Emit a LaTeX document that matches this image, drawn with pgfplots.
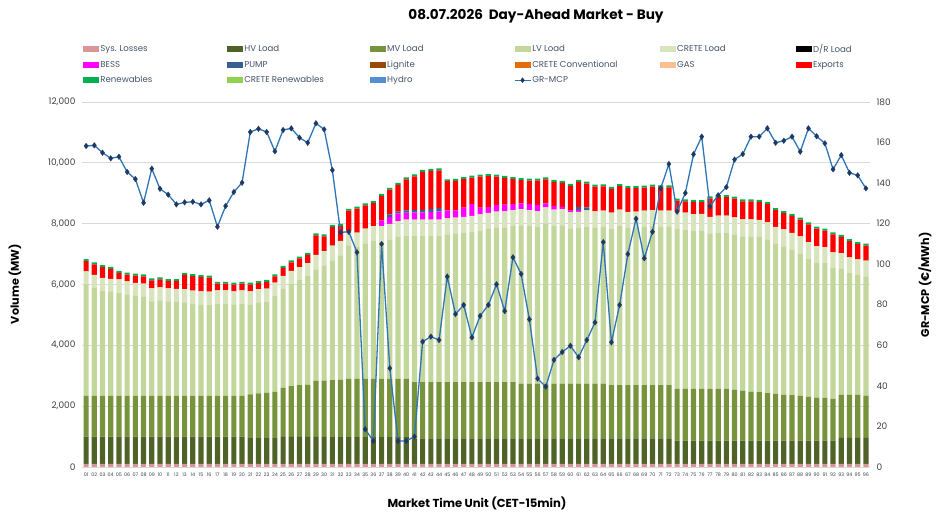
\documentclass[border=0pt]{standalone}
\usepackage{pgfplots}
\usepackage{pgfplotstable}
\pgfplotsset{compat=1.18}
\usepackage{fontspec}
\setmainfont{Poppins}

\definecolor{losscol}{HTML}{D99694}
\definecolor{hvcol}{HTML}{4F6228}
\definecolor{mvcol}{HTML}{77933C}
\definecolor{lvcol}{HTML}{C3D69B}
\definecolor{cretecol}{HTML}{D7E4BD}
\definecolor{drcol}{HTML}{000000}
\definecolor{besscol}{HTML}{FF00FF}
\definecolor{pumpcol}{HTML}{376092}
\definecolor{lignitecol}{HTML}{984807}
\definecolor{cconvcol}{HTML}{E46C0A}
\definecolor{gascol}{HTML}{FAC090}
\definecolor{expcol}{HTML}{FF0000}
\definecolor{rencol}{HTML}{00B050}
\definecolor{crenrcol}{HTML}{92D050}
\definecolor{hydrocol}{HTML}{558ED5}
\definecolor{mcpline}{HTML}{2E75B6}
\definecolor{mcpmark}{HTML}{1F3864}
\definecolor{gridgray}{HTML}{D9D9D9}
\definecolor{legtext}{HTML}{44546A}
\definecolor{ticktext}{HTML}{404040}

\pgfplotsset{
  swatch/.style={legend image code/.code={\fill[##1,draw=none] (0pt,-3pt) rectangle (16pt,3pt);}},
  mcpswatch/.style={legend image code/.code={%
    \draw[##1,mark=none] (0pt,0pt) -- (16pt,0pt);
    \path[##1] plot coordinates {(8pt,0pt)};}},
}

% volumes in MW per market time unit, price in EUR/MWh
\pgfplotstableread{
t loss hv mv lv crete bess pump exp ren mcp
1 100 900 1340 3665 430 0 0 330 65 158.3
2 100 900 1340 3545 430 0 0 350 65 158.6
3 100 900 1340 3445 430 0 0 360 65 155.0
4 100 900 1340 3415 430 0 0 330 65 152.2
5 100 900 1340 3395 430 0 0 220 65 153.0
6 100 900 1340 3335 430 0 0 220 65 145.5
7 100 900 1340 3285 430 0 0 240 65 142.0
8 100 900 1340 3255 430 0 0 240 65 130.3
9 100 900 1340 3105 430 0 0 260 65 147.1
10 100 900 1340 3135 430 0 0 260 65 137.2
11 100 900 1340 3105 430 0 0 240 65 134.3
12 100 900 1340 3085 430 0 0 260 65 129.5
13 100 900 1340 3075 430 0 0 470 65 130.5
14 100 900 1340 3025 430 0 0 480 65 130.8
15 100 900 1340 3005 430 0 0 470 65 129.5
16 100 900 1340 2995 430 0 0 460 65 131.5
17 100 900 1340 3035 430 0 0 220 65 118.5
18 100 900 1340 3035 430 0 0 220 65 128.7
19 100 900 1340 3005 430 0 0 220 65 135.6
20 100 900 1340 3035 430 0 0 220 65 140.2
21 100 850 1440 2955 430 0 0 220 65 165.2
22 100 850 1470 2995 430 0 0 200 65 166.8
23 100 850 1490 2995 430 0 0 220 65 165.2
24 100 850 1520 3165 430 0 0 200 65 155.7
25 100 890 1620 3245 430 0 0 260 65 166.2
26 100 890 1670 3355 430 0 0 280 65 167.0
27 100 890 1700 3455 430 0 0 280 65 162.4
28 100 890 1710 3575 430 0 0 270 65 159.9
29 100 890 1840 3665 480 0 0 640 65 169.5
30 100 890 1850 3775 480 0 0 490 65 166.5
31 100 880 1880 3935 480 0 0 620 65 146.4
32 100 880 1890 4085 480 0 0 490 65 115.7
33 100 880 1920 4385 480 0 0 660 65 116.0
34 100 880 1920 4325 480 0 0 790 65 105.9
35 100 880 1920 4455 480 0 0 770 65 18.6
36 100 880 1920 4535 480 0 0 760 65 12.8
37 100 880 1920 4485 530 190 0 810 65 110.0
38 100 880 1920 4565 530 220 90 810 65 48.7
39 100 880 1920 4655 530 250 60 880 65 12.8
40 100 880 1920 4705 530 230 70 1020 65 12.8
41 100 840 1850 4815 530 240 70 1110 65 15.0
42 100 840 1850 4815 530 240 80 1250 65 61.8
43 100 840 1850 4815 530 250 90 1260 65 64.3
44 100 840 1850 4815 530 270 110 1240 65 62.6
45 100 840 1850 4855 530 260 0 960 65 93.9
46 100 840 1850 4875 530 240 0 970 65 75.4
47 100 840 1850 4905 530 300 0 940 65 79.9
48 100 840 1850 4935 530 390 0 870 65 63.9
49 100 840 1850 4985 530 220 0 1020 65 74.5
50 100 840 1850 5035 530 190 0 1020 65 79.9
51 100 840 1850 5075 530 220 0 930 65 90.1
52 100 840 1850 5085 530 220 0 880 65 76.9
53 100 840 1850 5125 530 200 0 820 65 103.4
54 100 840 1800 5205 530 190 0 770 65 95.2
55 100 840 1800 5175 530 200 0 770 65 72.8
56 100 840 1800 5145 530 200 0 800 65 43.6
57 100 840 1800 5265 530 130 0 790 65 39.6
58 100 840 1800 5195 530 120 0 790 65 52.8
59 100 840 1800 5205 530 80 0 790 65 56.7
60 100 840 1800 5105 530 50 0 820 65 59.8
61 100 840 1800 5115 530 70 100 820 65 54.1
62 100 840 1800 5165 530 0 100 780 65 62.6
63 100 840 1800 5135 530 0 0 810 65 71.3
64 100 840 1800 5155 530 0 0 800 65 110.9
65 100 840 1750 5145 530 0 0 780 65 61.5
66 100 840 1750 5245 530 0 0 770 65 79.9
67 100 840 1750 5165 530 0 0 780 65 105.0
68 100 840 1750 5175 530 0 0 770 65 122.4
69 100 840 1750 5205 530 0 0 760 65 102.9
70 100 840 1750 5225 530 0 0 770 65 116.0
71 100 840 1750 5205 530 0 0 770 65 137.4
72 100 840 1750 5205 530 0 0 770 65 149.4
73 100 770 1700 5265 560 0 0 360 65 125.9
74 100 770 1700 5235 560 0 0 370 65 135.1
75 100 770 1700 5185 560 0 0 400 65 154.2
76 100 770 1700 5195 560 0 0 380 65 162.9
77 100 770 1700 5095 560 0 0 610 65 128.5
78 100 770 1700 5135 560 0 0 610 65 134.0
79 100 770 1700 5135 560 0 0 610 65 138.0
80 100 770 1670 5105 560 0 0 620 65 151.6
81 100 770 1640 5075 560 0 0 590 65 154.3
82 100 770 1610 5105 560 0 0 590 65 162.9
83 100 770 1590 5105 560 0 0 590 65 162.9
84 100 770 1560 5055 560 0 0 600 65 167.0
85 100 770 1530 4935 560 0 0 550 65 159.9
86 100 770 1500 4885 560 0 0 530 65 160.9
87 100 770 1490 4775 560 0 0 560 65 162.9
88 100 770 1470 4685 560 0 0 550 65 155.5
89 100 770 1440 4525 560 0 0 580 65 167.0
90 100 770 1410 4425 560 0 0 570 65 163.1
91 100 770 1400 4435 520 0 0 550 65 159.6
92 100 770 1370 4295 520 0 0 590 65 146.8
93 100 860 1420 4135 520 0 0 530 65 153.8
94 100 860 1420 3995 520 0 0 530 65 145.1
95 100 860 1410 3935 520 0 0 500 65 143.8
96 100 860 1390 3915 520 0 0 490 65 137.4
}\data

\begin{document}
\begin{tikzpicture}
\useasboundingbox (0,0) rectangle (940pt,532pt);

\begin{axis}[
  at={(82pt,65pt)}, anchor=south west,
  scale only axis, width=788pt, height=365pt,
  ybar stacked, bar width=5.2pt,
  xmin=0.5, xmax=96.5, ymin=0, ymax=12000,
  xtick={1,...,96},
  xticklabels={01,02,03,04,05,06,07,08,09,10,11,12,13,14,15,16,17,18,19,20,21,22,23,24,25,26,27,28,29,30,31,32,33,34,35,36,37,38,39,40,41,42,43,44,45,46,47,48,49,50,51,52,53,54,55,56,57,58,59,60,61,62,63,64,65,66,67,68,69,70,71,72,73,74,75,76,77,78,79,80,81,82,83,84,85,86,87,88,89,90,91,92,93,94,95,96},
  ytick={0,2000,...,12000},
  scaled y ticks=false,
  /pgf/number format/.cd, 1000 sep={,}, assume math mode=true,
  /pgfplots/.cd,
  axis x line*=bottom, axis y line*=left,
  axis line style={draw=none},
  major tick length=0pt,
  ymajorgrids, major grid style={draw=gridgray, line width=0.8pt},
  xticklabel style={font=\fontsize{4.8}{5}\selectfont, text=ticktext,
    anchor=north, text height=3.6pt, text depth=0pt, yshift=-2pt},
  yticklabel style={font=\fontsize{9}{10}\selectfont, text=ticktext, xshift=-3pt},
  legend columns=6,
  legend cell align=left,
  legend style={at={(0.0013,1.162)}, anchor=north west, draw=none, fill=none,
    inner sep=0pt, row sep=4.8pt,
    font=\fontsize{8.6}{10}\selectfont, text=legtext,
    nodes={inner sep=1.2pt, anchor=west}},
]
\addplot[forget plot, fill=losscol, draw=none] table[x=t, y=loss]{\data};
\addplot[forget plot, fill=hvcol, draw=none] table[x=t, y=hv]{\data};
\addplot[forget plot, fill=mvcol, draw=none] table[x=t, y=mv]{\data};
\addplot[forget plot, fill=lvcol, draw=none] table[x=t, y=lv]{\data};
\addplot[forget plot, fill=cretecol, draw=none] table[x=t, y=crete]{\data};
\addplot[forget plot, fill=besscol, draw=none] table[x=t, y=bess]{\data};
\addplot[forget plot, fill=pumpcol, draw=none] table[x=t, y=pump]{\data};
\addplot[forget plot, fill=expcol, draw=none] table[x=t, y=exp]{\data};
\addplot[forget plot, fill=rencol, draw=none] table[x=t, y=ren]{\data};

\addlegendimage{swatch, fill=losscol}
\addlegendentry{\makebox[125.5pt][l]{Sys. Losses}}
\addlegendimage{swatch, fill=hvcol}
\addlegendentry{\makebox[124.5pt][l]{HV Load}}
\addlegendimage{swatch, fill=mvcol}
\addlegendentry{\makebox[125.5pt][l]{MV Load}}
\addlegendimage{swatch, fill=lvcol}
\addlegendentry{\makebox[126.5pt][l]{LV Load}}
\addlegendimage{swatch, fill=cretecol}
\addlegendentry{\makebox[117.5pt][l]{CRETE Load}}
\addlegendimage{swatch, fill=drcol}
\addlegendentry{D/R Load}
\addlegendimage{swatch, fill=besscol}
\addlegendentry{BESS}
\addlegendimage{swatch, fill=pumpcol}
\addlegendentry{PUMP}
\addlegendimage{swatch, fill=lignitecol}
\addlegendentry{Lignite}
\addlegendimage{swatch, fill=cconvcol}
\addlegendentry{CRETE Conventional}
\addlegendimage{swatch, fill=gascol}
\addlegendentry{GAS}
\addlegendimage{swatch, fill=expcol}
\addlegendentry{Exports}
\addlegendimage{swatch, fill=rencol}
\addlegendentry{Renewables}
\addlegendimage{swatch, fill=crenrcol}
\addlegendentry{CRETE Renewables}
\addlegendimage{swatch, fill=hydrocol}
\addlegendentry{Hydro}
\addlegendimage{mcpswatch, color=mcpline, line width=1.2pt, mark=diamond*, mark size=2.6pt, mark options={fill=mcpmark, draw=mcpmark, line width=0.2pt}}
\addlegendentry{GR-MCP}
\end{axis}

\begin{axis}[
  at={(82pt,65pt)}, anchor=south west,
  scale only axis, width=788pt, height=365pt,
  xmin=0.5, xmax=96.5, ymin=0, ymax=180,
  ytick={0,20,...,180},
  axis x line=none,
  axis y line*=right,
  axis line style={draw=none},
  major tick length=0pt,
  /pgf/number format/assume math mode=true,
  yticklabel style={font=\fontsize{9}{10}\selectfont, text=ticktext, xshift=3pt},
]
\addplot[color=mcpline, line width=1.3pt, mark=diamond*, mark size=2.9pt,
  mark options={fill=mcpmark, draw=mcpmark, line width=0.2pt}]
  table[x=t, y=mcp]{\data};
\end{axis}

\node[font=\bfseries\fontsize{13.6}{16}\selectfont] at (536pt,516pt) {08.07.2026\ \ Day-Ahead Market - Buy};
\node[font=\bfseries\fontsize{11.6}{13}\selectfont] at (477pt,29pt) {Market Time Unit (CET-15min)};
\node[font=\bfseries\fontsize{11.2}{13}\selectfont, rotate=90] at (15pt,248pt) {Volume (MW)};
\node[font=\bfseries\fontsize{11.2}{13}\selectfont, rotate=90] at (925pt,247pt) {GR-MCP (€/MWh)};
\end{tikzpicture}
\end{document}
